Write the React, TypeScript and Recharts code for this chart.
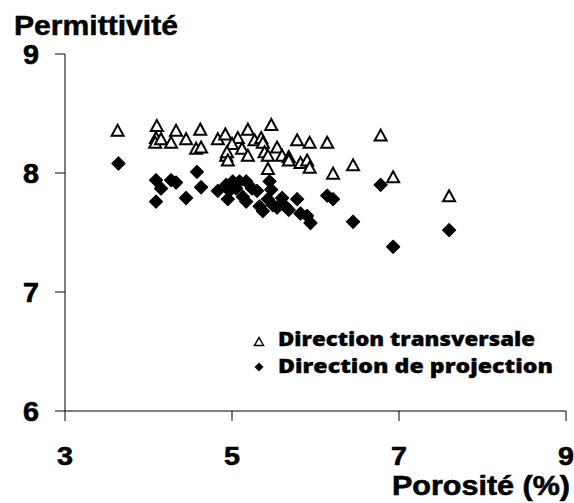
import React from 'react';
import { ScatterChart, Scatter, XAxis, YAxis, Legend } from 'recharts';

const transX = [3.63, 4.10, 4.09, 4.08, 4.15, 4.33, 4.27, 4.45, 4.62, 4.57, 4.63, 4.83, 4.92, 4.93, 5.07, 5.19, 5.00, 5.27, 5.35, 5.37, 5.47, 4.94, 4.95, 5.12, 5.19, 5.39, 5.43, 5.54, 5.60, 5.68, 5.68, 5.78, 5.93, 6.14, 5.82, 5.90, 5.93, 5.43, 6.21, 6.45, 6.78, 6.93, 7.60];
const transY = [8.35, 8.39, 8.29, 8.25, 8.28, 8.35, 8.25, 8.28, 8.36, 8.20, 8.21, 8.28, 8.32, 8.14, 8.29, 8.36, 8.24, 8.27, 8.29, 8.25, 8.40, 8.17, 8.10, 8.20, 8.14, 8.17, 8.14, 8.21, 8.14, 8.13, 8.10, 8.27, 8.25, 8.25, 8.08, 8.10, 8.04, 8.03, 7.99, 8.06, 8.31, 7.96, 7.80];

const projX = [3.64, 4.09, 4.15, 4.27, 4.33, 4.58, 4.63, 4.09, 4.45, 4.83, 4.93, 4.95, 5.01, 5.09, 5.17, 4.97, 5.05, 5.13, 5.17, 5.24, 5.30, 5.33, 5.37, 5.45, 5.47, 5.43, 5.49, 5.60, 5.64, 5.68, 5.54, 5.78, 5.82, 5.90, 5.94, 6.14, 6.21, 6.45, 6.78, 6.93, 7.60];
const projY = [8.08, 7.94, 7.87, 7.94, 7.92, 8.01, 7.88, 7.76, 7.79, 7.85, 7.90, 7.78, 7.93, 7.93, 7.93, 7.85, 7.87, 7.80, 7.76, 7.87, 7.85, 7.72, 7.68, 7.93, 7.86, 7.78, 7.73, 7.79, 7.72, 7.69, 7.71, 7.78, 7.66, 7.64, 7.58, 7.81, 7.78, 7.59, 7.90, 7.38, 7.52];

const xTicks = [3, 5, 7, 9];
const yTicks = [6, 7, 8, 9];

const seriesNames = ['Direction transversale', 'Direction de projection'];
const yTitle = 'Permittivité';
const xTitle = 'Porosité (%)';

const transData = transX.map((x, i) => ({ x, y: transY[i] }));
const projData = projX.map((x, i) => ({ x, y: projY[i] }));

const FONT = 'Liberation Sans, Arial, sans-serif';

const Triangle = (props: any) => {
  const { cx, cy } = props;
  if (cx == null || cy == null) return null;
  return (
    <polygon
      points={`${cx},${cy - 6.5} ${cx - 6},${cy + 4.5} ${cx + 6},${cy + 4.5}`}
      fill="#fff"
      stroke="#000"
      strokeWidth={2}
      strokeLinejoin="miter"
    />
  );
};

const Diamond = (props: any) => {
  const { cx, cy } = props;
  if (cx == null || cy == null) return null;
  return (
    <polygon
      points={`${cx},${cy - 6.5} ${cx + 6.5},${cy} ${cx},${cy + 6.5} ${cx - 6.5},${cy}`}
      fill="#000"
      stroke="#000"
      strokeWidth={1.2}
      strokeLinejoin="round"
    />
  );
};

const XTick = (props: any) => {
  const { x, y, payload } = props;
  return (
    <text x={x} y={y + 18} textAnchor="middle" style={{ fontFamily: FONT, fontWeight: 900, fontSize: 26 }} fill="#000" stroke="#000" strokeWidth={0.6} textLength={16} lengthAdjust="spacingAndGlyphs">
      {payload.value}
    </text>
  );
};

const YTick = (props: any) => {
  const { x, y, payload } = props;
  return (
    <text x={x} y={y + 9.5} textAnchor="end" style={{ fontFamily: FONT, fontWeight: 900, fontSize: 27 }} fill="#000" stroke="#000" strokeWidth={0.6} textLength={16} lengthAdjust="spacingAndGlyphs">
      {payload.value}
    </text>
  );
};

const LegendContent = () => (
  <svg width={320} height={60} style={{ display: 'block' }}>
    <polygon points="9,12.5 4.5,20.5 13.5,20.5" fill="#fff" stroke="#000" strokeWidth={1.5} />
    <text x={28} y={21} style={{ fontFamily: 'Open Sans, sans-serif', fontWeight: 800, fontSize: 19.5 }} fill="#000" stroke="#000" strokeWidth={0.35} textLength={257} lengthAdjust="spacingAndGlyphs">
      {seriesNames[0]}
    </text>
    <polygon points="9,37.5 13.5,42 9,46.5 4.5,42" fill="#000" />
    <text x={28} y={48} style={{ fontFamily: 'Open Sans, sans-serif', fontWeight: 800, fontSize: 19.5 }} fill="#000" stroke="#000" strokeWidth={0.35} textLength={275} lengthAdjust="spacingAndGlyphs">
      {seriesNames[1]}
    </text>
  </svg>
);

export default function App() {
  return (
    <div style={{ position: 'absolute', left: 0, top: 0, width: 574, height: 503, background: '#fff' }}>
      <ScatterChart width={574} height={503} margin={{ top: 54, right: 8, left: 5, bottom: 52 }}>
        <XAxis
          type="number"
          dataKey="x"
          domain={[3, 9]}
          ticks={xTicks}
          interval={0}
          allowDataOverflow
          axisLine={{ stroke: '#000', strokeWidth: 1 }}
          tickLine={{ stroke: '#000', strokeWidth: 1 }}
          tickSize={10}
          tickMargin={26}
          height={40}
          tick={<XTick />}
          label={{
            content: () => (
              <text x={392} y={495} style={{ fontFamily: FONT, fontWeight: 700, fontSize: 28 }} fill="#000" stroke="#000" strokeWidth={0.6} textLength={178} lengthAdjust="spacingAndGlyphs">
                {xTitle}
              </text>
            ),
          }}
        />
        <YAxis
          type="number"
          dataKey="y"
          domain={[6, 9]}
          ticks={yTicks}
          interval={0}
          allowDataOverflow
          width={60}
          axisLine={{ stroke: '#000', strokeWidth: 1 }}
          tickLine={{ stroke: '#000', strokeWidth: 1 }}
          tickSize={10}
          tickMargin={16}
          tick={<YTick />}
          label={{
            content: () => (
              <text x={14} y={35} style={{ fontFamily: FONT, fontWeight: 700, fontSize: 28 }} fill="#000" stroke="#000" strokeWidth={0.5} textLength={164} lengthAdjust="spacingAndGlyphs">
                {yTitle}
              </text>
            ),
          }}
        />
        <Legend
          layout="vertical"
          align="center"
          verticalAlign="middle"
          content={<LegendContent />}
          wrapperStyle={{ left: 250, top: 325, width: 320, height: 60 }}
        />
        <Scatter name={seriesNames[0]} data={transData} shape={<Triangle />} isAnimationActive={false} />
        <Scatter name={seriesNames[1]} data={projData} shape={<Diamond />} isAnimationActive={false} />
      </ScatterChart>
    </div>
  );
}
